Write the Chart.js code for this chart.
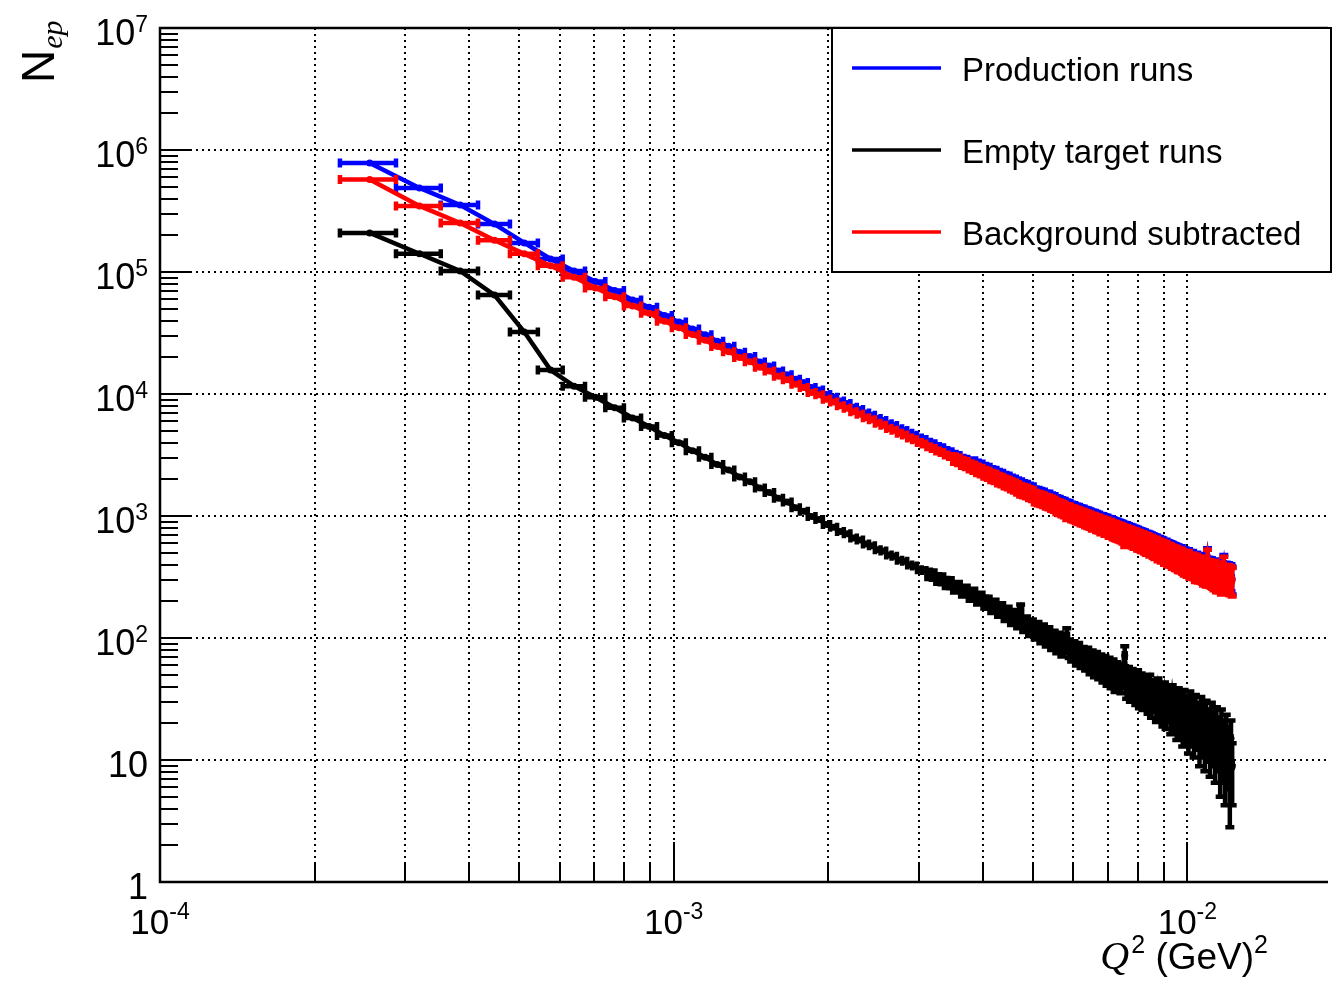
<!DOCTYPE html>
<html>
<head>
<meta charset="utf-8">
<script src="https://cdn.jsdelivr.net/npm/chart.js@4.4.0/dist/chart.umd.min.js"></script>
<style>
  html, body { margin: 0; padding: 0; background: #fff; overflow: hidden; }
  canvas { display: block; }
</style>
</head>
<body>
<canvas id="nepChart" width="1332" height="982"></canvas>
<script>
/* N_ep vs Q^2 : production / empty target / background subtracted */

// histogram binning (linear bins in Q^2, GeV^2)
var binLow = 2.24e-4, binWidth = 6.4e-5;

var production = [
  782000, 489000, 354000, 247000, 173000, 128000, 102000, 83500, 70400, 59000,
  51300, 44000, 38900, 34100, 30600, 27100, 24600, 22000, 20300, 18300,
  17000, 15400, 14400, 13200, 12400, 11300, 10800, 9900, 9400, 8750,
  8350, 7800, 7460, 6990, 6710, 6300, 6070, 5700, 5520, 5200,
  5030, 4760, 4600, 4360, 4240, 4020, 3910, 3710, 3620, 3440,
  3360, 3200, 3130, 2980, 2920, 2790, 2730, 2610, 2560, 2450,
  2400, 2300, 2265, 2170, 2135, 2050, 2015, 1940, 1905, 1835,
  1805, 1740, 1715, 1655, 1630, 1540, 1520, 1490, 1470, 1420,
  1410, 1365, 1345, 1290, 1275, 1240, 1225, 1185, 1175, 1135,
  1125, 1095, 1085, 1055, 1048, 1020,
  1012, 990, 968, 958, 940, 928, 905, 898, 880, 872,
  850, 846, 828, 812, 806, 792, 780, 770, 752, 748,
  735, 722, 716, 700, 695, 684, 672, 664, 655, 646,
  632, 628, 618, 608, 600, 588, 584, 570, 566, 555,
  548, 536, 534, 522, 516, 508, 502, 494, 488, 480,
  476, 466, 468, 452, 450, 444, 436, 440, 426, 420,
  424, 410, 404, 410, 396, 392, 398, 384, 378, 386,
  374, 450, 368, 360, 366, 352, 348, 356, 340, 346,
  334, 340, 328, 336, 390, 322, 332, 318, 328, 310,
  322, 306
];

var emptyTarget = [
  209000, 141000, 102000, 64700, 32200, 15700, 11600, 9400, 7700, 6350,
  5420, 4560, 3990, 3420, 3030, 2640, 2380, 2090, 1910, 1700,
  1560, 1400, 1300, 1170, 1095, 990, 935, 850, 810, 745,
  716, 660, 637, 590, 571, 530, 516, 478, 468, 434,
  425, 396, 389, 362, 357, 333, 329, 306, 304, 283,
  282, 262, 262, 243, 244, 226, 229, 211, 212, 197,
  196, 182, 184, 170, 172, 158, 160, 147, 150, 139,
  168, 130, 132, 121, 124, 114, 118, 107, 112, 101,
  106, 95, 99, 90, 95, 85, 90, 104, 83, 78,
  80, 73, 77, 70, 71, 67,
  70, 63, 66, 60, 64, 58, 61, 55, 59, 52,
  57, 50, 55, 47, 52, 49, 46, 50, 72, 42,
  47, 40, 45, 42, 38, 44, 36, 41, 35, 39,
  37, 33, 40, 31, 36, 34, 29, 37, 30, 33,
  27, 34, 26, 31, 29, 24, 32, 25, 28, 22,
  30, 23, 27, 20, 29, 21, 25, 18, 28, 20,
  24, 17, 26, 19, 22, 15, 25, 17, 21, 14,
  23, 16, 19, 13, 22, 15, 18, 12, 20, 14,
  16, 10, 19, 12, 15, 9, 17, 11, 13, 7,
  15, 9
];

var bgSubtracted = [
  573000, 348000, 252000, 182300, 140800, 112300, 90400, 74100, 62700, 52650,
  45880, 39440, 34910, 30680, 27570, 24460, 22220, 19910, 18390, 16600,
  15440, 14000, 13100, 12030, 11305, 10310, 9865, 9050, 8590, 8005,
  7634, 7140, 6823, 6400, 6139, 5770, 5554, 5222, 5052, 4766,
  4605, 4364, 4211, 3998, 3883, 3687, 3581, 3404, 3316, 3157,
  3078, 2938, 2868, 2737, 2676, 2564, 2501, 2399, 2348, 2253,
  2204, 2118, 2081, 2000, 1963, 1892, 1855, 1793, 1755, 1696,
  1637, 1610, 1583, 1534, 1506, 1426, 1402, 1383, 1358, 1319,
  1304, 1270, 1246, 1200, 1180, 1155, 1135, 1081, 1092, 1057,
  1045, 1022, 1008, 985, 977, 953,
  942, 927, 902, 898, 876, 870, 844, 843, 821, 820,
  793, 796, 773, 765, 754, 743, 734, 720, 680, 706,
  688, 682, 671, 658, 657, 640, 636, 623, 620, 607,
  595, 595, 578, 577, 564, 554, 555, 533, 536, 522,
  521, 502, 508, 491, 487, 484, 470, 469, 460, 458,
  446, 443, 441, 432, 421, 423, 411, 422, 398, 400,
  400, 393, 378, 391, 374, 377, 373, 367, 357, 372,
  351, 434, 349, 347, 344, 337, 330, 344, 320, 332,
  318, 330, 309, 324, 375, 313, 315, 307, 315, 303,
  307, 297
];

var legendLabels = ['Production runs', 'Empty target runs', 'Background subtracted'];
var seriesColors = ['#0000ff', '#000000', '#ff0000'];

// axis ranges and tick labels
var xMin = 1e-4, xMax = 0.018783;
var yMin = 1, yMax = 1e7;
var xLabelValues = [1e-4, 1e-3, 1e-2];
var xLabelExp = ['-4', '-3', '-2'];
var yLabelValues = [1, 10, 100, 1e3, 1e4, 1e5, 1e6, 1e7];
var yLabelBase = ['1', '10', '10', '10', '10', '10', '10', '10'];
var yLabelExp = ['', '', '2', '3', '4', '5', '6', '7'];

// weights of the normalised counts, used for the statistical errors
var wProd = 20, wEmpty = 2.5;

var centers = production.map(function(v, i) { return binLow + (i + 0.5) * binWidth; });
function toPoints(vals) {
    return vals.map(function(v, i) { return { x: centers[i], y: v }; });
}
var seriesValues = [production, emptyTarget, bgSubtracted];
var seriesErrors = [
    production.map(function(v) { return Math.sqrt(wProd * v); }),
    emptyTarget.map(function(v) { return Math.sqrt(wEmpty * v); }),
    production.map(function(v, i) { return Math.sqrt(wProd * v + wEmpty * emptyTarget[i]); })
];

var SANS = '"Liberation Sans", Arial, Helvetica, sans-serif';
var SERIF = '"Liberation Serif", "Times New Roman", serif';

function drawPower(ctx, base, exp, x, y, align, size, expSize, rise) {
    ctx.font = size + 'px ' + SANS;
    var wb = ctx.measureText(base).width;
    ctx.font = expSize + 'px ' + SANS;
    var we = exp ? ctx.measureText(exp).width : 0;
    var total = wb + we;
    var sx = align === 'right' ? x - total : (align === 'center' ? x - total / 2 : x);
    ctx.textAlign = 'left';
    ctx.textBaseline = 'alphabetic';
    ctx.font = size + 'px ' + SANS;
    ctx.fillText(base, sx, y);
    if (exp) {
        ctx.font = expSize + 'px ' + SANS;
        ctx.fillText(exp, sx + wb, y - rise);
    }
}

var rootStyle = {
    id: 'rootStyle',
    beforeDatasetsDraw: function(chart) {
        var ctx = chart.ctx, a = chart.chartArea, xs = chart.scales.x, ys = chart.scales.y;
        ctx.save();
        ctx.strokeStyle = '#000';
        ctx.lineWidth = 2;
        ctx.setLineDash([2, 4]);
        for (var e = -4; e <= -2; e++) {
            for (var m = 1; m <= 9; m++) {
                var v = m * Math.pow(10, e);
                if (v <= xMin * 1.01 || v >= xMax) continue;
                var x = Math.round(xs.getPixelForValue(v));
                ctx.beginPath(); ctx.moveTo(x, a.top); ctx.lineTo(x, a.bottom); ctx.stroke();
            }
        }
        for (var d = 1; d <= 6; d++) {
            var y = Math.round(ys.getPixelForValue(Math.pow(10, d)));
            ctx.beginPath(); ctx.moveTo(a.left, y); ctx.lineTo(a.right, y); ctx.stroke();
        }
        ctx.restore();
    },
    afterDatasetDraw: function(chart, args) {
        var i = args.index, ctx = chart.ctx, a = chart.chartArea;
        var xs = chart.scales.x, ys = chart.scales.y;
        var vals = seriesValues[i], errs = seriesErrors[i], cap = 4.5;
        ctx.save();
        ctx.beginPath(); ctx.rect(a.left, a.top, a.right - a.left, a.bottom - a.top); ctx.clip();
        ctx.strokeStyle = seriesColors[i];
        ctx.lineWidth = 4.5;
        ctx.beginPath();
        vals.forEach(function(v, k) {
            var x0 = xs.getPixelForValue(binLow + k * binWidth);
            var x1 = xs.getPixelForValue(binLow + (k + 1) * binWidth);
            var xc = xs.getPixelForValue(centers[k]);
            var y = ys.getPixelForValue(v);
            ctx.moveTo(x0, y); ctx.lineTo(x1, y);
            ctx.moveTo(x0, y - cap); ctx.lineTo(x0, y + cap);
            ctx.moveTo(x1, y - cap); ctx.lineTo(x1, y + cap);
            var yHi = ys.getPixelForValue(v + errs[k]);
            var yLo = v - errs[k] > yMin ? ys.getPixelForValue(v - errs[k]) : a.bottom;
            if (yLo - yHi > 2 * cap) {
                ctx.moveTo(xc, yHi); ctx.lineTo(xc, yLo);
                ctx.moveTo(xc - cap, yHi); ctx.lineTo(xc + cap, yHi);
                ctx.moveTo(xc - cap, yLo); ctx.lineTo(xc + cap, yLo);
            }
        });
        ctx.stroke();
        ctx.restore();
    },
    afterDraw: function(chart) {
        var ctx = chart.ctx, a = chart.chartArea, xs = chart.scales.x, ys = chart.scales.y;
        ctx.save();
        ctx.strokeStyle = '#000';
        ctx.fillStyle = '#000';
        ctx.lineWidth = 2.5;

        // frame
        ctx.beginPath();
        ctx.moveTo(a.right, a.top); ctx.lineTo(a.left, a.top);
        ctx.lineTo(a.left, a.bottom); ctx.lineTo(a.right, a.bottom);
        ctx.stroke();

        // y ticks
        ctx.lineWidth = 2;
        ctx.beginPath();
        for (var d = 0; d <= 6; d++) {
            for (var m = 1; m <= 9; m++) {
                var yv = m * Math.pow(10, d);
                var y = Math.round(ys.getPixelForValue(yv));
                ctx.moveTo(a.left, y); ctx.lineTo(a.left + (m === 1 ? 30 : 18), y);
            }
        }
        // x ticks
        for (var e = -4; e <= -2; e++) {
            for (var n = 1; n <= 9; n++) {
                var xv = n * Math.pow(10, e);
                if (xv >= xMax) continue;
                var x = Math.round(xs.getPixelForValue(xv));
                ctx.moveTo(x, a.bottom); ctx.lineTo(x, a.bottom - (n === 1 ? 40 : 20));
            }
        }
        ctx.stroke();

        // tick labels
        yLabelValues.forEach(function(v, k) {
            var y = ys.getPixelForValue(v);
            drawPower(ctx, yLabelBase[k], yLabelExp[k], 148, y + 17, 'right', 36, 23, 13);
        });
        xLabelValues.forEach(function(v, k) {
            var x = xs.getPixelForValue(v);
            drawPower(ctx, '10', xLabelExp[k], x, 934, 'center', 35, 23, 15);
        });

        // x title: Q^2 (GeV)^2, right aligned
        ctx.textBaseline = 'alphabetic';
        ctx.textAlign = 'left';
        ctx.font = 'italic 40px ' + SERIF;
        var wQ = ctx.measureText('Q').width;
        ctx.font = '25px ' + SANS;
        var w2 = ctx.measureText('2').width;
        ctx.font = '37px ' + SANS;
        var wG = ctx.measureText(' (GeV)').width;
        var sx = 1268 - (wQ + w2 + wG + w2 + 2);
        ctx.font = 'italic 40px ' + SERIF;
        ctx.fillText('Q', sx, 969);
        ctx.font = '25px ' + SANS;
        ctx.fillText('2', sx + wQ + 2, 953);
        ctx.font = '37px ' + SANS;
        ctx.fillText(' (GeV)', sx + wQ + 2 + w2, 969);
        ctx.font = '25px ' + SANS;
        ctx.fillText('2', sx + wQ + 2 + w2 + wG, 953);

        // y title: N_ep, rotated
        ctx.save();
        ctx.translate(54, 83);
        ctx.rotate(-Math.PI / 2);
        ctx.font = '46px ' + SANS;
        ctx.fillText('N', 0, 0);
        var wN = ctx.measureText('N').width;
        ctx.font = 'italic 30px ' + SERIF;
        ctx.fillText('ep', wN + 1, 8);
        ctx.restore();

        // legend
        ctx.lineWidth = 2;
        ctx.fillStyle = '#fff';
        ctx.fillRect(832, 28, 499, 244);
        ctx.strokeRect(832, 28, 499, 244);
        var rows = [68, 150, 232];
        legendLabels.forEach(function(label, k) {
            ctx.strokeStyle = seriesColors[k];
            ctx.lineWidth = 3.5;
            ctx.beginPath(); ctx.moveTo(852, rows[k]); ctx.lineTo(941, rows[k]); ctx.stroke();
            ctx.fillStyle = '#000';
            ctx.font = '33px ' + SANS;
            ctx.fillText(label, 962, rows[k] + 13);
        });
        ctx.restore();
    }
};

var datasets = seriesValues.map(function(vals, k) {
    return {
        label: legendLabels[k],
        data: toPoints(vals),
        borderColor: seriesColors[k],
        backgroundColor: seriesColors[k],
        borderWidth: 4.5,
        showLine: true,
        tension: 0,
        pointRadius: 3.5,
        pointBorderWidth: 0,
        order: [2, 1, 0][k]
    };
});

new Chart(document.getElementById('nepChart').getContext('2d'), {
    type: 'scatter',
    data: { datasets: datasets },
    options: {
        responsive: false,
        maintainAspectRatio: false,
        devicePixelRatio: 1,
        animation: false,
        events: [],
        layout: { padding: { left: 160, right: 1, top: 28, bottom: 100 } },
        scales: {
            x: { type: 'logarithmic', min: xMin, max: xMax, display: false },
            y: { type: 'logarithmic', min: yMin, max: yMax, display: false }
        },
        plugins: { legend: { display: false }, tooltip: { enabled: false }, title: { display: false } }
    },
    plugins: [rootStyle]
});
</script>
</body>
</html>
